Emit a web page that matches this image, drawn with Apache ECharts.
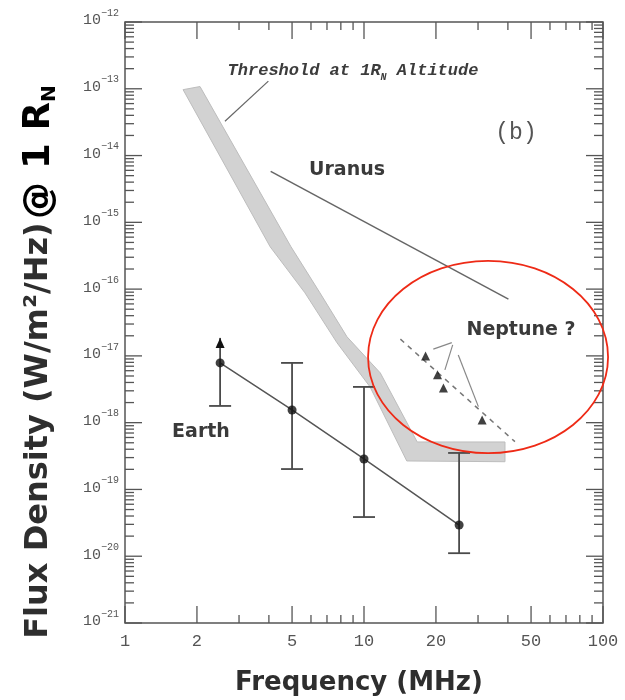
<!DOCTYPE html>
<html><head><meta charset="utf-8">
<script src="https://cdn.jsdelivr.net/npm/echarts@6.0.0/dist/echarts.min.js"></script>
<style>html,body{margin:0;padding:0;background:#fff}#c{width:625px;height:700px}</style>
</head><body><div id="c"></div>
<script>
// ---------- axes ----------
const X_MIN = 1, X_MAX = 100, Y_MIN = 1e-21, Y_MAX = 1e-12;
const xMajorTicks = [1, 2, 5, 10, 20, 50, 100];
const xTickLabels = ['1', '2', '5', '10', '20', '50', '100'];
const xMinorTicks = [3, 4, 6, 7, 8, 9, 30, 40, 60, 70, 80, 90];
const yDecadeExponents = [-21, -20, -19, -18, -17, -16, -15, -14, -13, -12];
const yTickLabels = ['\u221221', '\u221220', '\u221219', '\u221218', '\u221217', '\u221216', '\u221215', '\u221214', '\u221213', '\u221212'];
const yMinorMultipliers = [2, 3, 4, 5, 6, 7, 8, 9];

// ---------- threshold band (1 R_N altitude) ----------
const thresholdLowerFreq = [1.75, 4.05, 5.66, 7.71, 10.6, 15.1, 38.9];
const thresholdLowerFlux = [9.7e-14, 4.3e-16, 8.8e-17, 1.57e-17, 3.43e-18, 2.67e-19, 2.6e-19];
const thresholdUpperFreq = [2.06, 4.95, 6.54, 8.49, 11.7, 16.7, 38.9];
const thresholdUpperFlux = [1.08e-13, 4.3e-16, 8.8e-17, 1.93e-17, 5.56e-18, 5.14e-19, 5.14e-19];
const thresholdPointerFreq = [2.62, 3.98];
const thresholdPointerFlux = [3.26e-14, 1.3e-13];

// ---------- Uranus ----------
const uranusFreq = [4.07, 40.2];
const uranusFlux = [5.8e-15, 7.1e-17];

// ---------- Earth ----------
const earthFreq = [2.5, 5, 10, 25];
const earthFlux = [7.85e-18, 1.55e-18, 2.86e-19, 2.93e-20];
const earthErrLow = [1.78e-18, 2.02e-19, 3.86e-20, 1.11e-20];
const earthErrHigh = [1.86e-17, 7.85e-18, 3.43e-18, 3.52e-19];
const earthLowerLimit = [true, false, false, false];

// ---------- Neptune ? ----------
const neptuneFreq = [18.1, 20.3, 21.5, 31.2];
const neptuneFlux = [1.0e-17, 5.2e-18, 3.3e-18, 1.1e-18];
const neptuneFitFreq = [14.2, 42.8];
const neptuneFitFlux = [1.78e-17, 5.2e-19];
const neptunePointerFromFreq = [23.3, 23.5, 24.8];
const neptunePointerFromFlux = [1.58e-17, 1.46e-17, 1.03e-17];
const neptunePointerToFreq = [19.5, 21.8, 30.1];
const neptunePointerToFlux = [1.26e-17, 6.17e-18, 1.74e-18];

// ---------- highlight ellipse (data-space bounding box) ----------
const ellipseFreq = [10.4, 105];
const ellipseFlux = [3.5e-19, 2.65e-16];

const zip = (a, b) => a.map((v, i) => [v, b[i]]);
const GRAY = '#555';

function renderFrame(params, api) {
  const ch = [];
  const p0 = api.coord([X_MIN, Y_MIN]);
  const p1 = api.coord([X_MAX, Y_MAX]);
  const left = p0[0], bottom = p0[1], right = p1[0], top = p1[1];
  const ln = (x1, y1, x2, y2) => ch.push({ type: 'line', shape: { x1, y1, x2, y2 }, style: { stroke: GRAY, lineWidth: 1.3 } });
  xMajorTicks.forEach(v => { const x = api.coord([v, Y_MIN])[0]; ln(x, bottom, x, bottom - 17); ln(x, top, x, top + 17); });
  xMinorTicks.forEach(v => { const x = api.coord([v, Y_MIN])[0]; ln(x, bottom, x, bottom - 8); ln(x, top, x, top + 8); });
  yDecadeExponents.forEach(e => { const y = api.coord([X_MIN, Math.pow(10, e)])[1]; ln(left, y, left + 17, y); ln(right, y, right - 17, y); });
  yDecadeExponents.slice(0, -1).forEach(e => yMinorMultipliers.forEach(m => {
    const y = api.coord([X_MIN, m * Math.pow(10, e)])[1]; ln(left, y, left + 9, y); ln(right, y, right - 9, y);
  }));
  xTickLabels.forEach((t, i) => {
    const x = api.coord([xMajorTicks[i], Y_MIN])[0];
    ch.push({ type: 'text', x: x, y: bottom + 18, style: { text: t, fontFamily: 'Liberation Mono', fontSize: 17, fill: '#555', align: 'center', verticalAlign: 'middle' } });
  });
  yDecadeExponents.forEach((e, i) => {
    const y = api.coord([X_MIN, Math.pow(10, e)])[1];
    ch.push({ type: 'text', x: left - 6, y: y - 4, style: {
      text: '{b|10}{s|' + yTickLabels[i] + '}', align: 'right', verticalAlign: 'middle',
      rich: { b: { fontFamily: 'Liberation Mono', fontSize: 15, fill: '#555', lineHeight: 20, verticalAlign: 'bottom' },
              s: { fontFamily: 'Liberation Mono', fontSize: 10, fill: '#555', lineHeight: 12, verticalAlign: 'top' } } } });
  });
  return { type: 'group', children: ch };
}

function renderBand(params, api) {
  const pts = [];
  thresholdLowerFreq.forEach((f, i) => pts.push(api.coord([f, thresholdLowerFlux[i]])));
  for (let i = thresholdUpperFreq.length - 1; i >= 0; i--) pts.push(api.coord([thresholdUpperFreq[i], thresholdUpperFlux[i]]));
  return { type: 'polygon', shape: { points: pts }, style: { fill: '#d2d2d2', stroke: '#bdbdbd', lineWidth: 1 } };
}

function renderErrorBars(params, api) {
  const i = params.dataIndex;
  const f = earthFreq[i];
  const lo = api.coord([f, earthErrLow[i]]);
  const hi = api.coord([f, earthErrHigh[i]]);
  const ch = [];
  const st = { stroke: '#4a4a4a', lineWidth: 1.8 };
  ch.push({ type: 'line', shape: { x1: lo[0], y1: lo[1], x2: hi[0], y2: hi[1] }, style: st });
  ch.push({ type: 'line', shape: { x1: lo[0] - 11, y1: lo[1], x2: lo[0] + 11, y2: lo[1] }, style: st });
  if (earthLowerLimit[i]) {
    ch.push({ type: 'polygon', shape: { points: [[hi[0], hi[1]], [hi[0] - 4.5, hi[1] + 10], [hi[0] + 4.5, hi[1] + 10]] }, style: { fill: '#111' } });
  } else {
    ch.push({ type: 'line', shape: { x1: hi[0] - 11, y1: hi[1], x2: hi[0] + 11, y2: hi[1] }, style: st });
  }
  return { type: 'group', children: ch };
}

function renderPointers(params, api) {
  const i = params.dataIndex;
  const a = api.coord([neptunePointerFromFreq[i], neptunePointerFromFlux[i]]);
  const b = api.coord([neptunePointerToFreq[i], neptunePointerToFlux[i]]);
  return { type: 'line', shape: { x1: a[0], y1: a[1], x2: b[0], y2: b[1] }, style: { stroke: '#888', lineWidth: 1.2 } };
}

function renderEllipse(params, api) {
  const a = api.coord([ellipseFreq[0], ellipseFlux[0]]);
  const b = api.coord([ellipseFreq[1], ellipseFlux[1]]);
  return { type: 'ellipse', shape: { cx: (a[0] + b[0]) / 2, cy: (a[1] + b[1]) / 2, rx: Math.abs(b[0] - a[0]) / 2, ry: Math.abs(b[1] - a[1]) / 2 },
           style: { fill: 'none', stroke: '#ee2a16', lineWidth: 1.8 } };
}

const chart = echarts.init(document.getElementById('c'), null, { renderer: 'canvas' });
const line = (data, extra) => Object.assign({ type: 'line', data: data, symbol: 'none', silent: true, animation: false,
  lineStyle: { color: '#555', width: 1.5 } }, extra || {});

chart.setOption({
  animation: false,
  backgroundColor: '#fff',
  grid: { left: 125, right: 22, top: 22, bottom: 77, show: true, borderColor: GRAY, borderWidth: 1.5, backgroundColor: 'transparent' },
  xAxis: { type: 'log', logBase: 10, min: X_MIN, max: X_MAX,
    axisLine: { show: false }, axisTick: { show: false }, axisLabel: { show: false }, splitLine: { show: false }, minorTick: { show: false } },
  yAxis: { type: 'log', logBase: 10, min: Y_MIN, max: Y_MAX,
    axisLine: { show: false }, axisTick: { show: false }, axisLabel: { show: false }, splitLine: { show: false }, minorTick: { show: false } },
  series: [
    { type: 'custom', renderItem: renderBand, data: [[thresholdLowerFreq[0], thresholdLowerFlux[0]]], z: 1, silent: true },
    { type: 'custom', renderItem: renderFrame, data: [[X_MIN, Y_MIN]], z: 5, silent: true, clip: false },
    line(zip(thresholdPointerFreq, thresholdPointerFlux), { lineStyle: { color: '#666', width: 1.2 }, z: 3 }),
    line(zip(uranusFreq, uranusFlux), { lineStyle: { color: '#666', width: 1.5 }, z: 3 }),
    line(zip(earthFreq, earthFlux), { lineStyle: { color: '#555', width: 1.5 }, z: 3 }),
    line(zip(neptuneFitFreq, neptuneFitFlux), { lineStyle: { color: '#777', width: 1.5, type: [5, 5] }, z: 3 }),
    { type: 'custom', renderItem: renderErrorBars, data: zip(earthFreq, earthFlux), z: 4, silent: true },
    { type: 'custom', renderItem: renderPointers, data: zip(neptunePointerFromFreq, neptunePointerFromFlux), z: 4, silent: true },
    { type: 'scatter', data: zip(earthFreq, earthFlux), symbol: 'circle', symbolSize: 9, itemStyle: { color: '#111' }, z: 6, silent: true },
    { type: 'scatter', data: zip(neptuneFreq, neptuneFlux), symbol: 'triangle', symbolSize: 9, itemStyle: { color: '#111' }, z: 6, silent: true },
    { type: 'custom', renderItem: renderEllipse, data: [[ellipseFreq[0], ellipseFlux[0]]], z: 10, silent: true, clip: false }
  ],
  graphic: [
    { type: 'text', x: 353, y: 72, style: { text: '{a|Threshold at 1R}{n|N}{a| Altitude}', align: 'center', verticalAlign: 'middle',
        rich: { a: { fontFamily: 'Liberation Mono', fontStyle: 'italic', fontWeight: 'bold', fontSize: 17, fill: '#3c3c3c', lineHeight: 20, verticalAlign: 'top' },
                n: { fontFamily: 'Liberation Mono', fontStyle: 'italic', fontWeight: 'bold', fontSize: 10, fill: '#3c3c3c', lineHeight: 10, verticalAlign: 'bottom' } } } },
    { type: 'text', x: 516, y: 133, style: { text: '(b)', fontFamily: 'Liberation Mono', fontSize: 23, fill: '#555', align: 'center', verticalAlign: 'middle' } },
    { type: 'text', x: 347, y: 170, style: { text: 'Uranus', fontFamily: 'DejaVu Sans', fontWeight: 'bold', fontSize: 19, fill: '#3a3a3a', align: 'center', verticalAlign: 'middle' } },
    { type: 'text', x: 521, y: 330, style: { text: 'Neptune ?', fontFamily: 'DejaVu Sans', fontWeight: 'bold', fontSize: 19, fill: '#3a3a3a', align: 'center', verticalAlign: 'middle' } },
    { type: 'text', x: 201, y: 432, style: { text: 'Earth', fontFamily: 'DejaVu Sans', fontWeight: 'bold', fontSize: 19, fill: '#3a3a3a', align: 'center', verticalAlign: 'middle' } },
    { type: 'text', x: 359, y: 683, style: { text: 'Frequency (MHz)', fontFamily: 'DejaVu Sans', fontWeight: 'bold', fontSize: 26, fill: '#2e2e2e', align: 'center', verticalAlign: 'middle' } },
    { type: 'text', x: 39, y: 362, rotation: Math.PI / 2, style: { text: '{a|Flux Density (W/m\u00b2/Hz)} {b|@ 1 R}{n|N}', align: 'center', verticalAlign: 'middle',
        rich: { a: { fontFamily: 'DejaVu Sans', fontWeight: 'bold', fontSize: 32, fill: '#2e2e2e', lineHeight: 42, verticalAlign: 'middle' },
                b: { fontFamily: 'DejaVu Sans', fontWeight: 'bold', fontSize: 37, fill: '#000', lineHeight: 42, verticalAlign: 'middle' },
                n: { fontFamily: 'DejaVu Sans', fontWeight: 'bold', fontSize: 20, fill: '#000', lineHeight: 42, verticalAlign: 'bottom' } } } }
  ]
});
</script>
</body></html>
